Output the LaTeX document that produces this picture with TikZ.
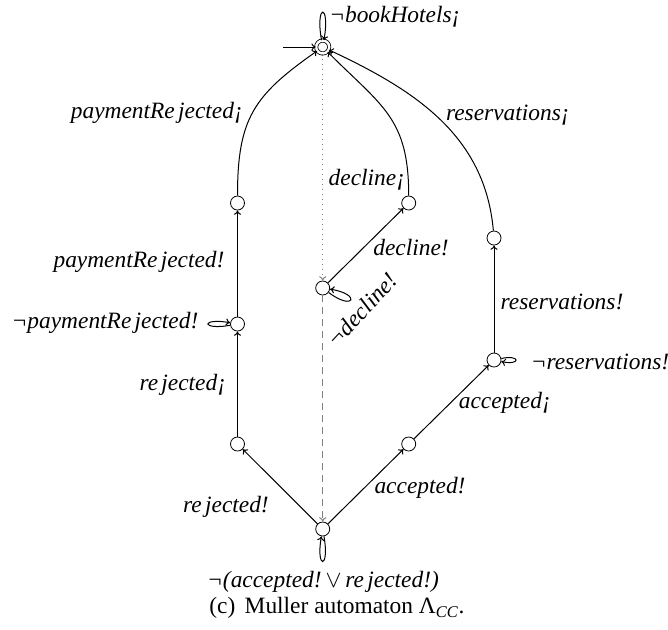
\documentclass[tikz,border=0pt]{standalone}
\usepackage{fontspec}
\setmainfont{Liberation Serif}
\usetikzlibrary{arrows.meta}
\newcommand{\jg}{\kern0.14em}
\begin{document}
\begin{tikzpicture}[x=0.5pt,y=-0.5pt,
  stnode/.style={circle,draw,minimum size=7pt,inner sep=0pt},
  accnode/.style={circle,draw,double,double distance=1.2pt,minimum size=6.5pt,inner sep=0pt},
  lbl/.style={font=\fontsize{11.7}{13}\selectfont\itshape,inner sep=0pt},
  captext/.style={font=\fontsize{11.7}{13}\selectfont,inner sep=0pt},
  trans/.style={->,line width=0.5pt},
  dotline/.style={->,gray,dotted,line width=0.5pt},
  dshline/.style={->,gray,dash pattern=on 3.5pt off 2.5pt,line width=0.5pt},
  >={To[length=2.2pt,width=3.6pt]}]
\useasboundingbox (0,0) rectangle (668,629);
% states
\node[accnode] (q0) at (322.7,47) {};
\node[stnode] (l1) at (237.5,203) {};
\node[stnode] (l2) at (237.5,324) {};
\node[stnode] (l3) at (237.5,444) {};
\node[stnode] (m) at (322.7,288) {};
\node[stnode] (d) at (408.7,203) {};
\node[stnode] (r1) at (494,238) {};
\node[stnode] (r2) at (494,360) {};
\node[stnode] (r3) at (408.7,444) {};
\node[stnode] (b) at (322.7,529) {};
\coordinate (init) at (283,47);
% transitions
\draw[trans] (init) -- (q0);
\draw[trans] (q0) to[loop,out=100,in=80,min distance=19pt] (q0);
\draw[trans] (b) -- (l3);
\draw[trans] (l3) -- (l2);
\draw[trans] (l2) to[loop,out=190,in=170,min distance=15pt] (l2);
\draw[trans] (l2) -- (l1);
\draw[trans] (l1) to[out=90,in=215,looseness=1.2] (q0);
\draw[trans] (b) -- (r3);
\draw[trans] (r3) -- (r2);
\draw[trans] (r2) to[loop,out=12,in=-12,min distance=10pt] (r2);
\draw[trans] (r2) -- (r1);
\draw[trans] (r1) to[out=95,in=-25] (q0);
\draw[dotline] (q0) -- (m);
\draw[trans] (m) -- (d);
\draw[trans] (d) to[out=90,in=-45,looseness=1.2] (q0);
\draw[trans] (m) to[loop,out=-37,in=-9,min distance=16pt] (m);
\draw[dshline] (m) -- (b);
\draw[trans] (b) to[loop,out=-80,in=-100,min distance=17pt] (b);
% labels
\node[lbl] (t1) at (395,17) {¬bookHotels¡};
\node[lbl] (t2) at (157,113) {paymentRe\jg jected¡};
\node[lbl] (t3) at (508,115) {reservations¡};
\node[lbl] (t4) at (367,180) {decline¡};
\node[lbl] (t5) at (411,248) {decline!};
\node[lbl,rotate=47] (t6) at (362,310) {¬decline!};
\node[lbl] (t7) at (139,262) {paymentRe\jg jected!};
\node[lbl] (t8) at (105,323) {¬paymentRe\jg jected!};
\node[lbl] (t9) at (183,385) {re\jg jected¡};
\node[lbl] (t10) at (226,507) {re\jg jected!};
\node[lbl] (t11) at (420,488) {accepted!};
\node[lbl] (t12) at (505,403) {accepted¡};
\node[lbl] (t13) at (562,302) {reservations!};
\node[lbl] (t14) at (600,362) {¬reservations!};
\node[lbl] (t15) at (323,582) {¬(accepted!\,$\vee$\,re\jg jected!)};
\node[captext] (c) at (337,608) {(c)\hspace{0.4em}Muller automaton Λ\textsubscript{\itshape CC}.};
\end{tikzpicture}
\end{document}
